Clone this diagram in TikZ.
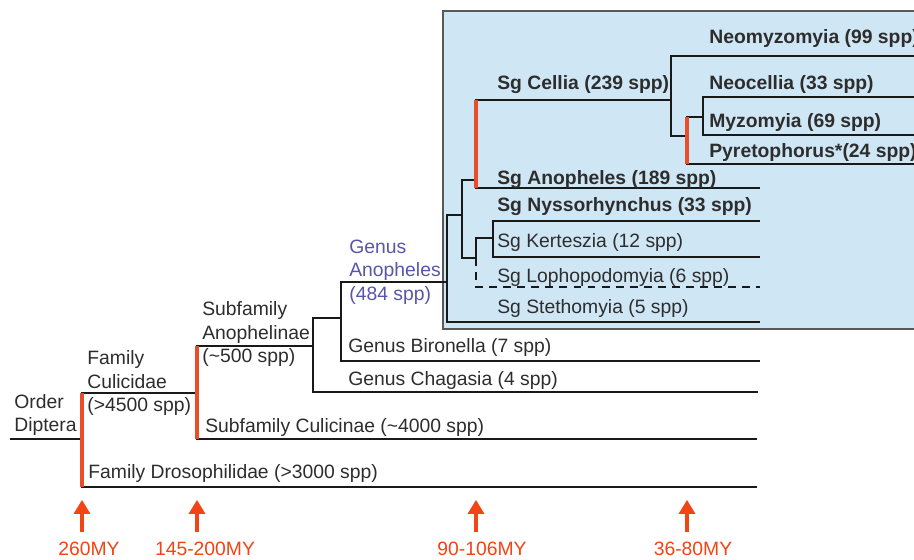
\documentclass[tikz,border=0pt]{standalone}
\usepackage{fontspec}
\setmainfont{Liberation Sans}
\usepackage{xcolor}
\usetikzlibrary{positioning,arrows.meta,calc}
\definecolor{boxblue}{RGB}{207,230,245}
\definecolor{agered}{RGB}{242,68,20}
\definecolor{branchred}{RGB}{234,78,40}
\definecolor{genusblue}{RGB}{88,86,170}
\definecolor{textgray}{RGB}{45,45,45}

\begin{document}
\begin{tikzpicture}[x=0.02cm, y=-0.02cm,
        LabelStyle/.style = { anchor=west, inner sep=0pt, text=textgray,
          font=\fontsize{11}{13.3}\selectfont },
        BoldStyle/.style = { LabelStyle,
          font=\fontsize{11}{13.3}\selectfont\bfseries },
        MultiStyle/.style = { LabelStyle, align=left },
        EdgeStyle/.style = { line width=1.3pt, draw=black!90 },
        RedStyle/.style = { line width=1.9pt, draw=branchred },
        AgeStyle/.style = { inner sep=0pt, text=agered,
          font=\fontsize{11}{13.3}\selectfont },
        ArrowStyle/.style = { draw=agered, line width=2.4pt,
          -{Triangle[width=9pt,length=8pt]} }
      ]
      \useasboundingbox (0,0) rectangle (914,559);
      \clip (0,0) rectangle (914,559);
      \fill[white] (0,0) rectangle (914,559);
      \draw[fill=boxblue, draw=black!65, line width=0.9pt] (443,11) rectangle (930,329);

      \coordinate (Root) at (10,439);
      \coordinate (D)    at (82,439);
      \coordinate (Cu)   at (197,393);
      \coordinate (Dro)  at (757,487);
      \coordinate (An)   at (313,346);
      \coordinate (Cul)  at (757,439);
      \coordinate (Cha)  at (758,392);
      \coordinate (G)    at (341,318);
      \coordinate (Bir)  at (760,361);
      \coordinate (A)    at (447,282);
      \coordinate (Ste)  at (760,322);
      \coordinate (A1)   at (462,215);
      \coordinate (CA)   at (476,180);
      \coordinate (Ano)  at (760,188);
      \coordinate (Ce)   at (671,100);
      \coordinate (Neo)  at (930,56);
      \coordinate (C2)   at (687,136);
      \coordinate (Pyr)  at (930,164);
      \coordinate (C3)   at (703,117);
      \coordinate (Nc)   at (930,97);
      \coordinate (My)   at (930,135);
      \coordinate (N1)   at (476,258);
      \coordinate (NK)   at (493,238);
      \coordinate (Nys)  at (760,221);
      \coordinate (Ker)  at (760,257);
      \coordinate (Lop)  at (760,287);

      \draw[EdgeStyle] (Root) -- (D);
      \foreach \p/\c in {D/Cu, D/Dro, Cu/An, Cu/Cul, An/G, An/Cha, G/A, G/Bir,
          A/A1, A/Ste, A1/CA, A1/N1, CA/Ce, CA/Ano, Ce/Neo, Ce/C2, C2/C3,
          C2/Pyr, C3/Nc, C3/My, N1/NK, NK/Nys, NK/Ker}
        \draw[EdgeStyle] (\p) |- (\c);
      \draw[EdgeStyle, dash pattern=on 4.5pt off 3.5pt] (N1) |- (Lop);

      \draw[RedStyle] (D |- Cu) -- (D |- Dro);
      \draw[RedStyle] (Cu |- An) -- (Cu |- Cul);
      \draw[RedStyle] (CA |- Ce) -- (CA |- Ano);
      \draw[RedStyle] (C2 |- C3) -- (C2 |- Pyr);

      \node[MultiStyle] (OrderLbl) at (14,415) {Order\\Diptera};
      \node[MultiStyle] (CulicidaeLbl) at (87,383) {Family\\Culicidae\\(>4500 spp)};
      \node[MultiStyle] (AnophelinaeLbl) at (202,334) {Subfamily\\Anophelinae\\(\textasciitilde500 spp)};
      \node[MultiStyle, text=genusblue] (AnophelesLbl) at (349,272) {Genus\\Anopheles\\(484 spp)};
      \node[LabelStyle] (DroLbl) at (88,473) {Family Drosophilidae (>3000 spp)};
      \node[LabelStyle] (CulLbl) at (205,427) {Subfamily Culicinae (\textasciitilde4000 spp)};
      \node[LabelStyle] (ChaLbl) at (348,380) {Genus Chagasia (4 spp)};
      \node[LabelStyle] (BirLbl) at (348,347) {Genus Bironella (7 spp)};
      \node[LabelStyle] (SteLbl) at (497,308) {Sg Stethomyia (5 spp)};
      \node[LabelStyle] (LopLbl) at (497,277) {Sg Lophopodomyia (6 spp)};
      \node[LabelStyle] (KerLbl) at (497,242) {Sg Kerteszia (12 spp)};
      \node[BoldStyle] (NysLbl) at (497,207) {Sg Nyssorhynchus (33 spp)};
      \node[BoldStyle] (AnoLbl) at (497,180) {Sg Anopheles (189 spp)};
      \node[BoldStyle] (CeLbl) at (497,85) {Sg Cellia (239 spp)};
      \node[BoldStyle] (NeoLbl) at (709,38) {Neomyzomyia (99 spp)};
      \node[BoldStyle] (NcLbl) at (709,84) {Neocellia (33 spp)};
      \node[BoldStyle] (MyLbl) at (709,122) {Myzomyia (69 spp)};
      \node[BoldStyle] (PyrLbl) at (709,152) {Pyretophorus*(24 spp)};

      \node[AgeStyle] (T260) at (89,549) {260MY};
      \node[AgeStyle] (T145) at (205,549) {145-200MY};
      \node[AgeStyle] (T90) at (482,549) {90-106MY};
      \node[AgeStyle] (T36) at (693,549) {36-80MY};
      \draw[ArrowStyle] (T260.north -| D) ++(0,-10) -- ++(0,-32);
      \draw[ArrowStyle] (T145.north -| Cu) ++(0,-10) -- ++(0,-32);
      \draw[ArrowStyle] (T90.north -| CA) ++(0,-10) -- ++(0,-32);
      \draw[ArrowStyle] (T36.north -| C2) ++(0,-10) -- ++(0,-32);
    \end{tikzpicture}
\end{document}
